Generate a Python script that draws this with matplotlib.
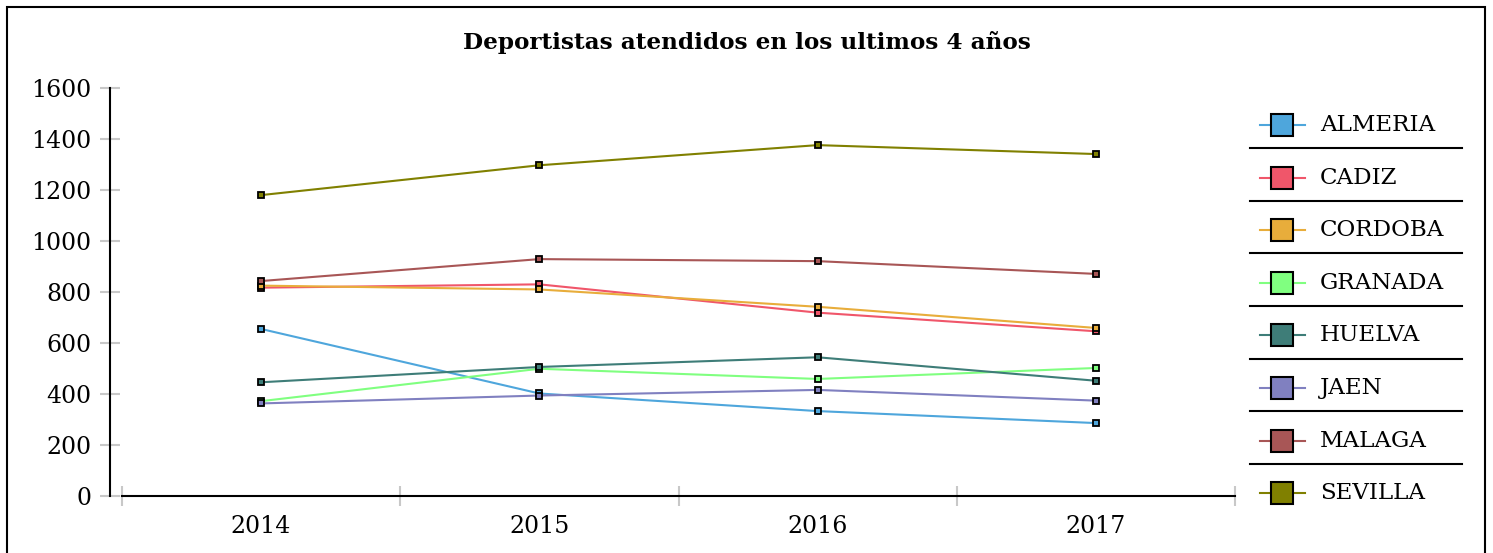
import matplotlib
matplotlib.use("Agg")
import matplotlib.pyplot as plt
from matplotlib.patches import Rectangle
from matplotlib.lines import Line2D

years = ["2014", "2015", "2016", "2017"]
series_names = ["ALMERIA", "CADIZ", "CORDOBA", "GRANADA", "HUELVA", "JAEN", "MALAGA", "SEVILLA"]
almeria = [655, 402, 333, 286]
cadiz = [817, 830, 719, 646]
cordoba = [825, 810, 742, 659]
granada = [372, 499, 459, 502]
huelva = [446, 506, 544, 452]
jaen = [363, 394, 416, 374]
malaga = [843, 929, 921, 871]
sevilla = [1180, 1297, 1376, 1341]
series_values = [almeria, cadiz, cordoba, granada, huelva, jaen, malaga, sevilla]
colors = ["#4EA6DC", "#F0566A", "#E8AD3B", "#80FF80", "#3E7D78", "#8080C0", "#A85656", "#808000"]
y_ticks = [0, 200, 400, 600, 800, 1000, 1200, 1400, 1600]
title = "Deportistas atendidos en los ultimos 4 años"

W, H = 1493, 553
PX = 72 / 100  # points per pixel
fig = plt.figure(figsize=(W / 100, H / 100), dpi=100)
plt.rcParams['font.family'] = ['DejaVu Serif']

# border
fig.patches.append(Rectangle((7 / W, -0.1), (1485 - 7) / W, 1.1 - 7 / H, transform=fig.transFigure,
                             fill=False, edgecolor="black", linewidth=1.5))

ax = fig.add_axes([122 / W, 1 - 496 / H, (1235 - 122) / W, (496 - 88) / H])
x = [i + 0.5 for i in range(len(years))]
for vals, c in zip(series_values, colors):
    ax.plot(x, vals, color=c, linewidth=1.5, marker="s", markersize=5,
            markerfacecolor=c, markeredgecolor="black", markeredgewidth=1.3, zorder=3)

ax.set_xlim(0, len(years))
ax.set_ylim(0, 1600)
for s in ["top", "right"]:
    ax.spines[s].set_visible(False)
ax.spines["left"].set_position(("outward", 12 * PX))
ax.spines["left"].set_linewidth(1.5)
ax.spines["bottom"].set_linewidth(1.5)

ax.set_yticks(y_ticks)
ax.set_yticklabels([str(v) for v in y_ticks])
ax.tick_params(axis="y", direction="inout", length=20 * PX, width=1.5, color="#C8C8C8",
               labelsize=17, pad=6)
ax.set_xticks(range(len(years) + 1))
ax.set_xticklabels([])
ax.tick_params(axis="x", which="major", direction="inout", length=20 * PX, width=1.5, color="#C8C8C8")
ax.set_xticks(x, minor=True)
ax.set_xticklabels(years, minor=True)
ax.tick_params(axis="x", which="minor", length=0, labelsize=17, pad=14)

fig.text(0.5, 1 - 42 / H, title, ha="center", va="center", fontsize=16.7, fontweight="bold")

# legend
ly0 = 125
dy = 52.6
for i, (name, c) in enumerate(zip(series_names, colors)):
    yy = 1 - (ly0 + i * dy) / H
    fig.add_artist(Line2D([1260 / W, 1305 / W], [yy, yy], transform=fig.transFigure, color=c, linewidth=1.5))
    fig.add_artist(Line2D([1282 / W], [yy], transform=fig.transFigure, marker="s", markersize=16,
                          markerfacecolor=c, markeredgecolor="black", markeredgewidth=1.5, linestyle="none"))
    fig.text(1320 / W, yy, name, ha="left", va="center", fontsize=16.6)
    if i < len(series_names) - 1:
        ys = 1 - (ly0 + i * dy + dy / 2 - 3) / H
        fig.add_artist(Line2D([1250 / W, 1462 / W], [ys, ys], transform=fig.transFigure, color="black", linewidth=1.5))

fig.savefig("out.png", dpi=100)
